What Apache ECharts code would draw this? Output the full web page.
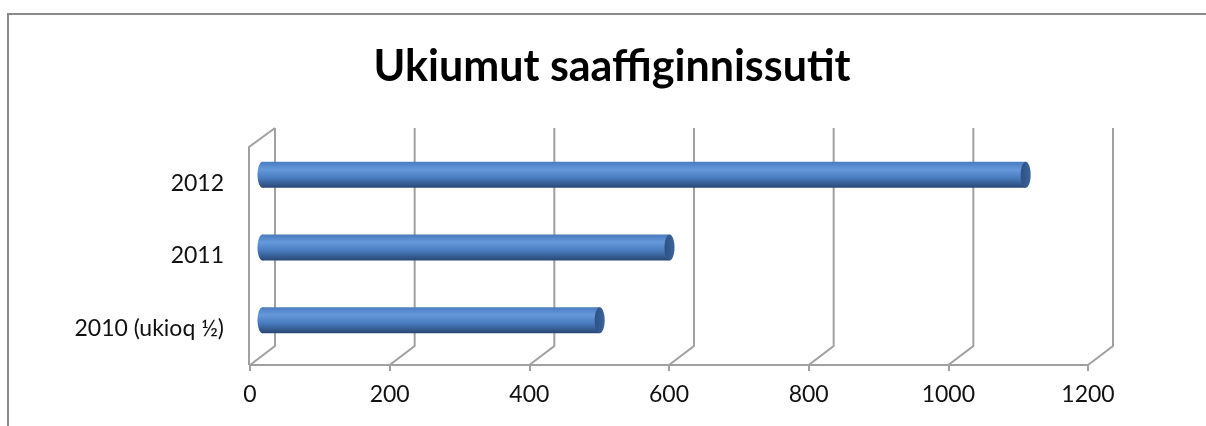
<!DOCTYPE html>
<html>
<head>
<meta charset="utf-8">
<script src="https://cdn.jsdelivr.net/npm/echarts@6/dist/echarts.min.js"></script>
<style>
  html, body { margin: 0; padding: 0; background: #fff; }
  #chart { width: 1206px; height: 426px; }
</style>
</head>
<body>
<div id="chart"></div>
<script>
// data
const titleText = 'Ukiumut saaffiginnissutit';
const categories = ['2010 (ukioq ½)', '2011', '2012'];
const values = [490, 590, 1100];
const xTicks = [0, 200, 400, 600, 800, 1000, 1200];

// 3d depth offset of the back wall (px)
const DX = 25, DY = 19;
const BAR_H = 26;
const FONT = 'Lato, "Open Sans", sans-serif';

const chart = echarts.init(document.getElementById('chart'));

const cylFill = {
  type: 'linear', x: 0, y: 0, x2: 0, y2: 1,
  colorStops: [
    { offset: 0, color: '#4a7cbe' },
    { offset: 0.3, color: '#6499dc' },
    { offset: 0.6, color: '#4b7ec1' },
    { offset: 1, color: '#284774' }
  ]
};
const capFill = {
  type: 'linear', x: 0, y: 0, x2: 1, y2: 0,
  colorStops: [
    { offset: 0, color: '#2c5083' },
    { offset: 1, color: '#3c659d' }
  ]
};

let option = {
  backgroundColor: '#fff',
  animation: false,
  graphic: [
    {
      type: 'rect',
      shape: { x: 8, y: 14, width: 1400, height: 600 },
      style: { fill: 'none', stroke: '#8a8a8a', lineWidth: 2 },
      silent: true
    },
    {
      type: 'text',
      x: 612, y: 67,
      style: {
        text: titleText,
        fill: '#000',
        font: 'bold 43px ' + FONT,
        textAlign: 'center',
        textVerticalAlign: 'middle'
      }
    }
  ],
  grid: { left: 250, right: 118, top: 147, bottom: 61 },
  xAxis: {
    type: 'value',
    min: 0, max: 1200, interval: 200,
    axisLine: { show: true, lineStyle: { color: '#a0a0a0', width: 2 } },
    axisTick: { show: true, length: 6, lineStyle: { color: '#a0a0a0', width: 2 } },
    splitLine: { show: false },
    axisLabel: {
      margin: 18, color: '#111', fontSize: 23, fontFamily: FONT,
      formatter: function (v) { return String(v); }
    }
  },
  yAxis: {
    type: 'category',
    data: categories,
    axisLine: { show: false },
    axisTick: { show: false },
    splitLine: { show: false },
    axisLabel: { margin: 26, color: '#111', fontSize: 23, fontFamily: FONT }
  },
  series: [
    {
      // walls / gridlines of the 3d box
      type: 'custom',
      z: 1,
      silent: true,
      data: xTicks.map(v => [v, 0]),
      renderItem: function (params, api) {
        const cs = params.coordSys;
        const v = api.value(0);
        const x = api.coord([v, 0])[0];
        const top = cs.y, bottom = cs.y + cs.height;
        const style = { stroke: '#a0a0a0', lineWidth: 2, fill: 'none' };
        const children = [{
          type: 'polyline',
          shape: { points: [[x, bottom], [x + DX, bottom - DY], [x + DX, top - DY]] },
          style: style
        }];
        if (v === 0) {
          children.push({
            type: 'polyline',
            shape: { points: [[x - 1, bottom], [x - 1, top], [x + DX, top - DY]] },
            style: style
          });
        }
        return { type: 'group', children: children };
      }
    },
    {
      // cylinders
      type: 'custom',
      z: 3,
      data: values.map((v, i) => [v, i]),
      renderItem: function (params, api) {
        const val = api.value(0), idx = api.value(1);
        const s = api.coord([0, idx]);
        const e = api.coord([val, idx]);
        const x0 = s[0] + DX / 2, x1 = e[0] + DX / 2 - 5;
        const cy = s[1] - DY / 2 + 1;
        const rx = 5, ry = BAR_H / 2;
        return {
          type: 'group',
          children: [
            { type: 'ellipse', shape: { cx: x0, cy: cy, rx: rx, ry: ry }, style: { fill: cylFill } },
            { type: 'rect', shape: { x: x0, y: cy - ry, width: x1 - x0, height: BAR_H }, style: { fill: cylFill } },
            { type: 'ellipse', shape: { cx: x1, cy: cy, rx: rx, ry: ry }, style: { fill: capFill } }
          ]
        };
      }
    }
  ]
};
chart.setOption(option);
</script>
</body>
</html>
